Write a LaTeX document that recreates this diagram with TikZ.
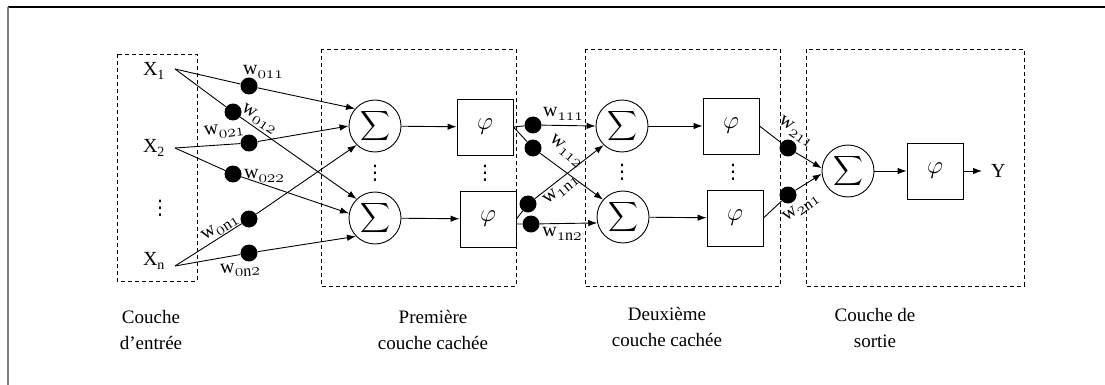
\documentclass[tikz,border=0pt]{standalone}
\usepackage{amsmath}
\usepackage{fontspec}
\setmainfont{Liberation Serif}
\newfontfamily\dejavu{DejaVu Sans}
\usetikzlibrary{arrows.meta}
\newcommand{\osnum}[1]{{\fontencoding{OML}\fontfamily{cmm}\fontseries{m}\fontshape{it}\selectfont #1}}
\newcommand{\wlabel}[1]{$\mathrm{w}$\raisebox{-4pt}{\fontsize{16}{16}\selectfont #1}}
\begin{document}
\begin{tikzpicture}[x=1pt,y=-1pt,
  sumnode/.style={circle,draw,line width=0.9pt,minimum size=52pt,inner sep=0pt,font=\fontsize{22}{22}\selectfont},
  phibox/.style={draw,line width=0.9pt,minimum size=56pt,inner sep=0pt,font=\fontsize{28}{28}\selectfont},
  wdot/.style={circle,fill=black,minimum size=17pt,inner sep=0pt},
  layerbox/.style={draw,line width=0.8pt,dash pattern=on 4pt off 3pt},
  conn/.style={line width=0.9pt,-{Latex[length=9pt,width=6.5pt]}},
  wlab/.style={inner sep=0pt,font=\fontsize{20}{20}\selectfont},
  xlab/.style={inner sep=0pt,font=\fontsize{20}{20}\selectfont},
  dotsl/.style={inner sep=0pt,font=\dejavu\fontsize{20}{20}\selectfont},
  lab/.style={align=center,font=\fontsize{19}{26}\selectfont}]
\useasboundingbox (0,0) rectangle (1105,385);
% outer frame
\draw[line width=1.2pt] (8,7) -- (1105,7);
\draw[line width=1.2pt,gray] (8,7) -- (8,385);
% layer boxes
\draw[layerbox] (117,54) rectangle (197,281);
\draw[layerbox] (321,49) rectangle (516,286);
\draw[layerbox] (585,49) rectangle (780,286);
\draw[layerbox] (806,49) rectangle (1024,286);
% inputs
\node[xlab] (x1) at (154,71) {X\textsubscript{1}};
\node[xlab] (x2) at (154,148) {X\textsubscript{2}};
\node[dotsl] (xd) at (160,208) {⋮};
\node[xlab] (xn) at (154,261) {X\textsubscript{n}};
\coordinate (x1o) at (175,69);
\coordinate (x2o) at (175,148);
\coordinate (xno) at (175,266);
% first hidden layer
\node[sumnode] (s1) at (375,126) {$\displaystyle\sum$};
\node[sumnode] (s2) at (375,218) {$\displaystyle\sum$};
\node[dotsl] (sd1) at (375,173) {⋮};
\node[phibox] (p1) at (485,127) {$\varphi$};
\node[phibox] (p2) at (488,219) {$\varphi$};
\node[dotsl] (pd1) at (485,173) {⋮};
% second hidden layer
\node[sumnode] (s3) at (622,126) {$\displaystyle\sum$};
\node[sumnode] (s4) at (623,217) {$\displaystyle\sum$};
\node[dotsl] (sd2) at (622,172) {⋮};
\node[phibox] (p3) at (731,126) {$\varphi$};
\node[phibox] (p4) at (735,218) {$\varphi$};
\node[dotsl] (pd2) at (733,172) {⋮};
% output layer
\node[sumnode] (s5) at (848,171) {$\displaystyle\sum$};
\node[phibox] (p5) at (935,171) {$\varphi$};
\node[xlab,anchor=west] (y) at (991,171) {Y};
% weight dots
\node[wdot] (w011) at (249,86) {};
\node[wdot] (w012) at (233,112) {};
\node[wdot] (w021) at (249,143) {};
\node[wdot] (w022) at (233,174) {};
\node[wdot] (w0n1) at (249,219) {};
\node[wdot] (w0n2) at (249,253) {};
\node[wdot] (w111) at (533,125) {};
\node[wdot] (w112) at (533,148) {};
\node[wdot] (w1n1) at (528,204) {};
\node[wdot] (w1n2) at (531,224) {};
\node[wdot] (w211) at (788,148) {};
\node[wdot] (w2n1) at (788,195) {};
% connectors input -> first layer
\draw[conn] (x1o) -- (w011) -- (s1.139);
\draw[conn] (x1o) -- (w012) -- (s2.134);
\draw[conn] (x2o) -- (w021) -- (s1.180);
\draw[conn] (x2o) -- (w022) -- (s2.170);
\draw[conn] (xno) -- (w0n1) -- (s1.226);
\draw[conn] (xno) -- (w0n2) -- (s2.224);
\draw[conn] (s1) -- (p1);
\draw[conn] (s2) -- (p2);
% first -> second
\draw[conn] (p1.east) -- (w111) -- (s3.180);
\draw[conn] (p1.east) -- (w112) -- (s4.139);
\draw[conn] (p2.east) -- (w1n1) -- (s3.226);
\draw[conn] (p2.-10) -- (w1n2) -- (s4.193);
\draw[conn] (s3) -- (p3);
\draw[conn] (s4) -- (p4);
% second -> output
\draw[conn] (p3.east) -- (w211) -- (s5.174);
\draw[conn] (p4.east) -- (w2n1) -- (s5.186);
\draw[conn] (s5) -- (p5);
\draw[conn,shorten >=9pt] (p5.east) -- (y.west);
% weight labels
\node[wlab] (l011) at (263,72) {\wlabel{\osnum{011}}};
\node[wlab,rotate=-33] (l012) at (259,119) {\wlabel{\osnum{012}}};
\node[wlab,rotate=7] (l021) at (224,131) {\wlabel{\osnum{021}}};
\node[wlab] (l022) at (264,176) {\wlabel{\osnum{022}}};
\node[wlab,rotate=33] (l0n1) at (220,228) {\wlabel{\osnum{0}n\osnum{1}}};
\node[wlab,rotate=3] (l0n2) at (240,270) {\wlabel{\osnum{0}n\osnum{2}}};
\node[wlab] (l111) at (563,114) {\wlabel{\osnum{111}}};
\node[wlab,rotate=-40] (l112) at (566,151) {\wlabel{\osnum{112}}};
\node[wlab,rotate=40] (l1n1) at (561,190) {\wlabel{\osnum{1}n\osnum{1}}};
\node[wlab] (l1n2) at (562,234) {\wlabel{\osnum{1}n\osnum{2}}};
\node[wlab,rotate=-35] (l211) at (796,132) {\wlabel{\osnum{211}}};
\node[wlab,rotate=35] (l2n1) at (801,208) {\wlabel{\osnum{2}n\osnum{1}}};
% layer labels
\node[lab] (c0) at (151,330) {Couche\\d'entrée};
\node[lab] (c1) at (433,330) {Première\\couche cachée};
\node[lab] (c2) at (667,327) {Deuxième\\couche cachée};
\node[lab] (c3) at (875,328) {Couche de\\sortie};
\end{tikzpicture}
\end{document}
